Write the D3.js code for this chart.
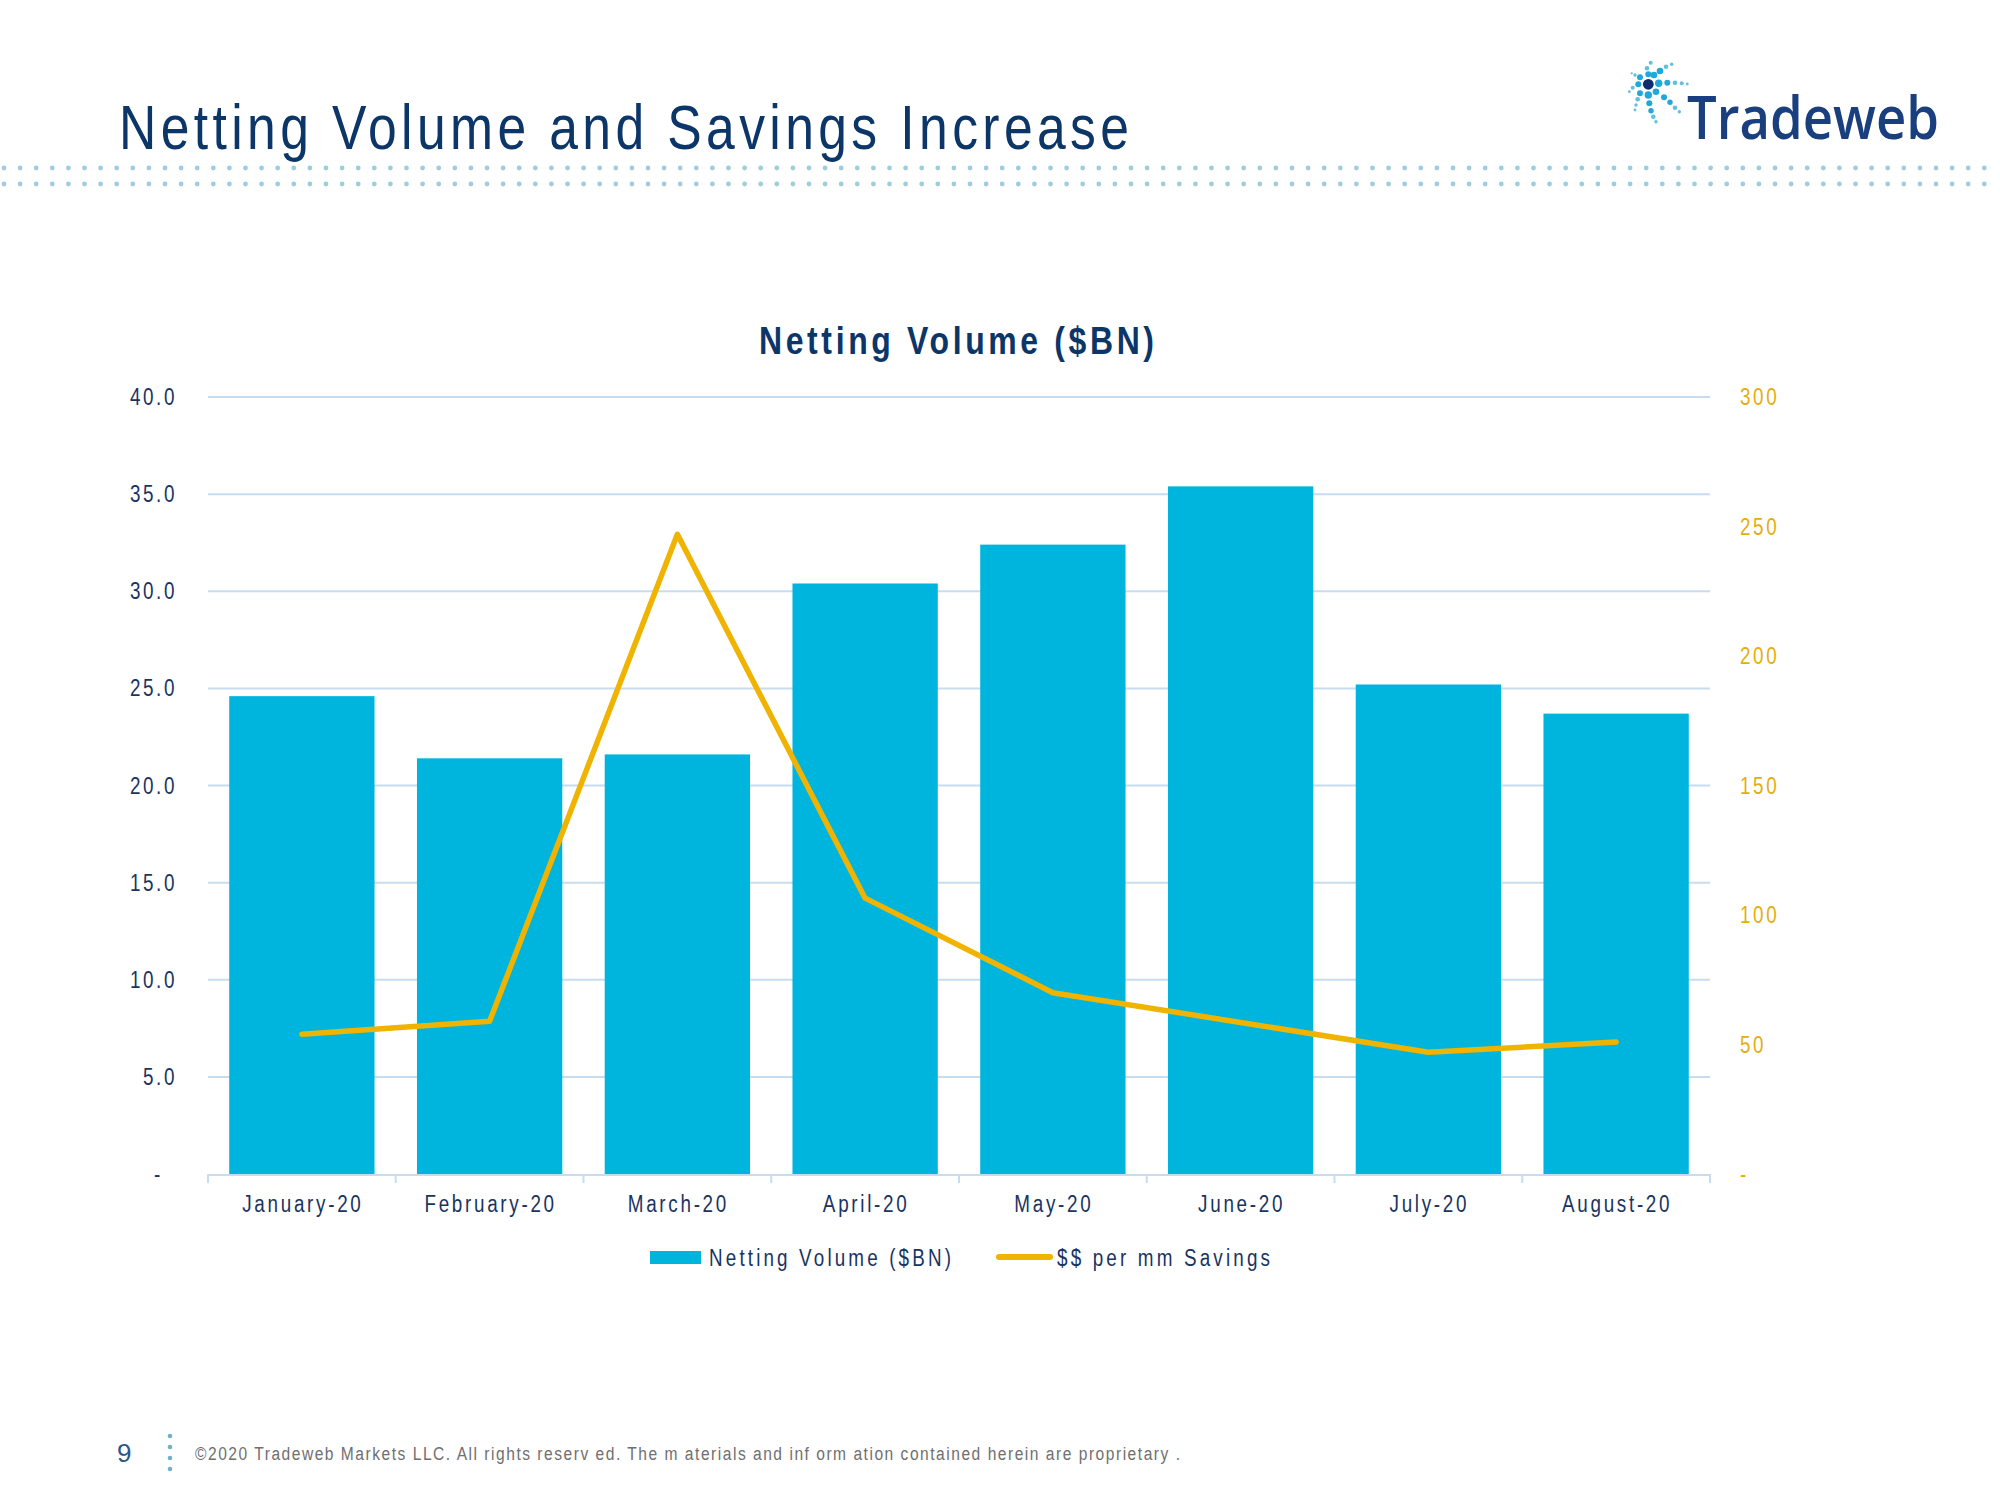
<!DOCTYPE html>
<html>
<head>
<meta charset="utf-8">
<script src="https://cdn.jsdelivr.net/npm/d3@7"></script>
<style>
  html, body { margin: 0; padding: 0; background: #ffffff; }
  svg { display: block; }
  text { font-family: "Liberation Sans", Arial, sans-serif; }
</style>
</head>
<body>
<svg id="chart" width="2000" height="1500"></svg>
<script>
// ---------- data ----------
const months = ["January-20", "February-20", "March-20", "April-20", "May-20", "June-20", "July-20", "August-20"];
const nettingVolume = [24.6, 21.4, 21.6, 30.4, 32.4, 35.4, 25.2, 23.7];
const savingsPerMM = [54, 59, 247, 106.5, 70, 58.5, 47, 51];
const leftTicks = [0, 5, 10, 15, 20, 25, 30, 35, 40];
const rightTicks = [0, 50, 100, 150, 200, 250, 300];
const seriesNames = ["Netting Volume ($BN)", "$$ per mm Savings"];
const pageTitle = "Netting Volume and Savings Increase";
const chartTitle = "Netting Volume ($BN)";
const footerText = "\u00A92020 Tradeweb  Markets LLC. All rights reserv ed. The m aterials and inf orm ation contained herein are proprietary .";

// ---------- styles ----------
const C = {
  bar: "#00b5dd",
  line: "#efb300",
  grid: "#c8dcf0",
  navy: "#0c3668",
  label: "#1a3461",
  gold: "#e5ae0c",
  dots: "#9fcddd",
  gray: "#6f6f6f"
};
const SX = 0.82; // horizontal condensing to imitate a narrow face

const svg = d3.select("#chart");

// condensed text helper
function ntext(parent, x, y, str, opts) {
  const o = Object.assign({ size: 23, anchor: "start", fill: C.label, spacing: 0, weight: "normal", width: null }, opts || {});
  const t = parent.append("text")
    .attr("transform", `translate(${x},${y}) scale(${SX},1)`)
    .attr("text-anchor", o.anchor)
    .attr("font-size", o.size)
    .attr("font-weight", o.weight)
    .attr("fill", o.fill)
    .text(str);
  if (o.width) {
    t.attr("textLength", o.width / SX).attr("lengthAdjust", "spacing");
  } else if (o.spacing) {
    t.attr("letter-spacing", o.spacing / SX);
  }
  return t;
}

// ---------- header ----------
ntext(svg, 119, 149, pageTitle, { size: 63, fill: C.navy, width: 1010 });

// dotted rule rows
const dotXs = d3.range(4, 2000, 16.1);
[168, 184].forEach(yy => {
  svg.append("g").selectAll("circle").data(dotXs).join("circle")
    .attr("cx", d => d).attr("cy", yy).attr("r", 2.4)
    .attr("fill", C.dots);
});

// logo starburst
const logoDots = [
  [1650.7,62.7,2],[1647,68.3,2.3],[1648.3,74.3,3],[1654,75,3.3],[1660,71,3.3],[1666,66.7,2.3],[1671.7,64.3,1.7],
  [1658.7,83.3,3.7],[1667.3,82.7,3],[1675,82.7,2.3],[1681.7,83.3,2],[1687.3,84,1.4],
  [1656,91.7,3.3],[1664,97.3,3],[1670,102.3,2.7],[1675,107.7,2.3],[1679.3,111.7,1.7],
  [1648.3,95,3.7],[1649.3,103.3,3],[1651,110.7,2.7],[1653.3,116.7,2.3],[1656,121.7,1.7],
  [1640,93.3,3],[1637.7,99.3,2.3],[1636,105,1.7],[1635,110,1.4],
  [1638.3,84.3,3],[1632.7,87.7,2],[1629.3,91.7,1.4],
  [1640,77.3,3],[1635,75,1.7],[1631.7,73.3,1.1]
];
svg.append("g").selectAll("circle").data(logoDots).join("circle")
  .attr("cx", d => d[0]).attr("cy", d => d[1]).attr("r", d => d[2])
  .attr("fill", d => d[2] > 2.6 ? "#1fa8d9" : "#62c0df");
svg.append("circle").attr("cx", 1648.3).attr("cy", 84.3).attr("r", 5.4).attr("fill", "#0e2d6a");
svg.append("text")
  .attr("x", 1687).attr("y", 139)
  .attr("font-size", 60)
  .attr("fill", "#1a3f7e")
  .style("font-family", "'Open Sans', 'Liberation Sans', Arial, sans-serif")
  .attr("font-weight", 600)
  .attr("textLength", 252).attr("lengthAdjust", "spacingAndGlyphs")
  .text("Tradeweb");

// ---------- chart ----------
const plotLeft = 208, plotRight = 1710, plotTop = 397, plotBottom = 1174;

const x = d3.scaleBand().domain(months).range([plotLeft, plotRight])
  .paddingInner(0.226).paddingOuter(0.113);
const yL = d3.scaleLinear().domain([0, 40]).range([plotBottom, plotTop]);
const yR = d3.scaleLinear().domain([0, 300]).range([plotBottom, plotTop]);

// chart title
ntext(svg, 759, 354, chartTitle, { size: 39, weight: "bold", fill: C.navy, width: 395 });

// gridlines
svg.append("g").selectAll("line").data(leftTicks.filter(d => d > 0)).join("line")
  .attr("x1", plotLeft).attr("x2", plotRight)
  .attr("y1", d => yL(d)).attr("y2", d => yL(d))
  .attr("stroke", C.grid).attr("stroke-width", 2);

// left axis labels
const gL = svg.append("g");
leftTicks.forEach(d => {
  ntext(gL, d === 0 ? 163 : 177, yL(d) + 8, d === 0 ? "-" : d3.format(".1f")(d),
    { size: 23, anchor: "end", fill: C.label, spacing: 2.6 });
});

// right axis labels
const gR = svg.append("g");
rightTicks.forEach(d => {
  ntext(gR, 1740, yR(d) + 8, d === 0 ? "-" : d3.format("d")(d),
    { size: 23, anchor: "start", fill: C.gold, spacing: 2.6 });
});

// bars
svg.append("g").selectAll("rect").data(months).join("rect")
  .attr("x", d => x(d))
  .attr("width", x.bandwidth())
  .attr("y", (d, i) => yL(nettingVolume[i]))
  .attr("height", (d, i) => plotBottom - yL(nettingVolume[i]))
  .attr("fill", C.bar);

// x axis line and ticks
svg.append("line")
  .attr("x1", plotLeft).attr("x2", plotRight)
  .attr("y1", plotBottom + 1).attr("y2", plotBottom + 1)
  .attr("stroke", C.grid).attr("stroke-width", 2);
const boundaries = d3.range(months.length + 1).map(i => plotLeft + i * x.step());
svg.append("g").selectAll("line").data(boundaries).join("line")
  .attr("x1", d => d).attr("x2", d => d)
  .attr("y1", plotBottom).attr("y2", plotBottom + 9)
  .attr("stroke", C.grid).attr("stroke-width", 2);

// category labels
const gX = svg.append("g");
months.forEach(m => {
  ntext(gX, x(m) + x.bandwidth() / 2 + 1, 1212, m,
    { size: 23, anchor: "middle", fill: C.label, spacing: 2.7 });
});

// savings line
const line = d3.line()
  .x((d, i) => x(months[i]) + x.bandwidth() / 2)
  .y(d => yR(d));
svg.append("path")
  .datum(savingsPerMM)
  .attr("d", line)
  .attr("fill", "none")
  .attr("stroke", C.line)
  .attr("stroke-width", 5.5)
  .attr("stroke-linejoin", "round")
  .attr("stroke-linecap", "round");

// legend
const lg = svg.append("g");
lg.append("rect").attr("x", 650).attr("y", 1251).attr("width", 51).attr("height", 13).attr("fill", C.bar);
ntext(lg, 709, 1266, seriesNames[0], { size: 23, fill: C.label, width: 242 });
lg.append("line").attr("x1", 999).attr("x2", 1050).attr("y1", 1257).attr("y2", 1257)
  .attr("stroke", C.line).attr("stroke-width", 6).attr("stroke-linecap", "round");
ntext(lg, 1057, 1266, seriesNames[1], { size: 23, fill: C.label, width: 213 });

// ---------- footer ----------
svg.append("text").attr("x", 117).attr("y", 1462).attr("font-size", 26)
  .attr("fill", "#2b5688")
  .text("9");
svg.append("g").selectAll("circle").data([1436, 1447, 1458, 1469]).join("circle")
  .attr("cx", 170).attr("cy", d => d).attr("r", 2.3).attr("fill", "#6fb2cf");
ntext(svg, 195, 1460, footerText, { size: 19, fill: C.gray, width: 985 });
</script>
</body>
</html>
